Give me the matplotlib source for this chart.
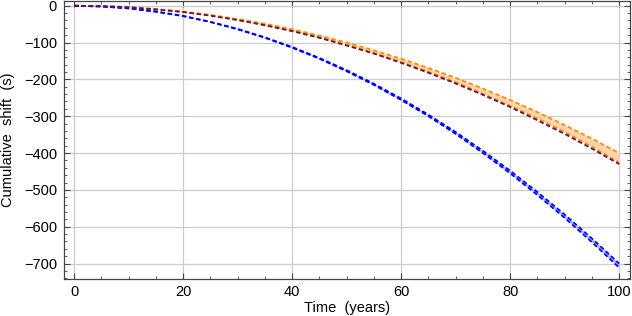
import matplotlib
matplotlib.use("Agg")
from matplotlib import pyplot as plt
from matplotlib.ticker import MultipleLocator
import numpy as np

# years
t = [0, 5, 10, 15, 20, 25, 30, 35, 40, 45, 50, 55, 60, 65, 70, 75, 80, 85, 90, 95, 100]

# cumulative shift (s)
orange_hi = [0, -1, -4, -9, -16, -25, -36, -49, -64, -81, -100, -121, -144, -169, -196, -225, -256, -289, -324, -361, -400]
orange_lo = [0, -1, -4, -10, -17, -26, -38, -52, -68, -86, -106, -128, -153, -179, -208, -239, -272, -306, -343, -383, -426]
purple = [0, -1, -4, -10, -17, -27, -39, -53, -69, -87, -108, -130, -155, -182, -211, -242, -275, -311, -348, -388, -430]
blue_hi = [0, -2, -7, -16, -28, -44, -63, -86, -112, -142, -175, -212, -252, -296, -343, -394, -448, -506, -567, -632, -700]
blue_lo = [0, -2, -7, -16, -28, -44, -64, -87, -114, -144, -178, -215, -256, -300, -348, -400, -455, -514, -576, -642, -711]

plt.rcParams['font.family'] = ['Liberation Sans', 'DejaVu Sans']

fig = plt.figure(figsize=(6.32, 3.16), dpi=100)
ax = fig.add_axes([0.101, 0.117, 0.896, 0.88])

dash = (0, (2.5, 1.5))

ax.fill_between(t, orange_hi, orange_lo, color='#FDD3AE', lw=0, zorder=2)
ax.fill_between(t, blue_hi, blue_lo, color='#A9B9FF', lw=0, zorder=2)

ax.plot(t, orange_hi, color='#FF8C00', lw=1.3, ls=dash, zorder=3)
ax.plot(t, orange_lo, color='#FF8C00', lw=1.3, ls=dash, zorder=3)
ax.plot(t, purple, color='#5E1552', lw=1.3, ls=dash, zorder=4)
ax.plot(t, blue_hi, color='#0000FF', lw=1.3, ls=dash, zorder=3)
ax.plot(t, blue_lo, color='#0000FF', lw=1.3, ls=dash, zorder=3)

ax.set_xlim(-1.9, 102)
ax.set_ylim(-742, 13)

ax.xaxis.set_major_locator(MultipleLocator(20))
ax.xaxis.set_minor_locator(MultipleLocator(5))
ax.yaxis.set_major_locator(MultipleLocator(100))
ax.yaxis.set_minor_locator(MultipleLocator(20))

ax.grid(True, which='major', color='#CCCCCC', lw=0.9, zorder=1)
ax.set_axisbelow(True)

for s in ax.spines.values():
    s.set_color('#444444')
    s.set_linewidth(0.9)

ax.tick_params(which='both', direction='in', top=True, right=True, colors='#444444',
               labelcolor='black', labelsize=10.5)
ax.tick_params(which='major', length=4, width=0.8)
ax.tick_params(which='minor', length=2.2, width=0.6)
ax.tick_params(axis='x', pad=4)
ax.tick_params(axis='y', pad=5)

ax.set_xlabel('Time  (years)', fontsize=10.5)
ax.set_ylabel('Cumulative  shift  (s)', fontsize=10.5)
ax.xaxis.set_label_coords(0.5, -0.078)
ax.yaxis.set_label_coords(-0.087, 0.5)

fig.savefig('out.png', dpi=100)
